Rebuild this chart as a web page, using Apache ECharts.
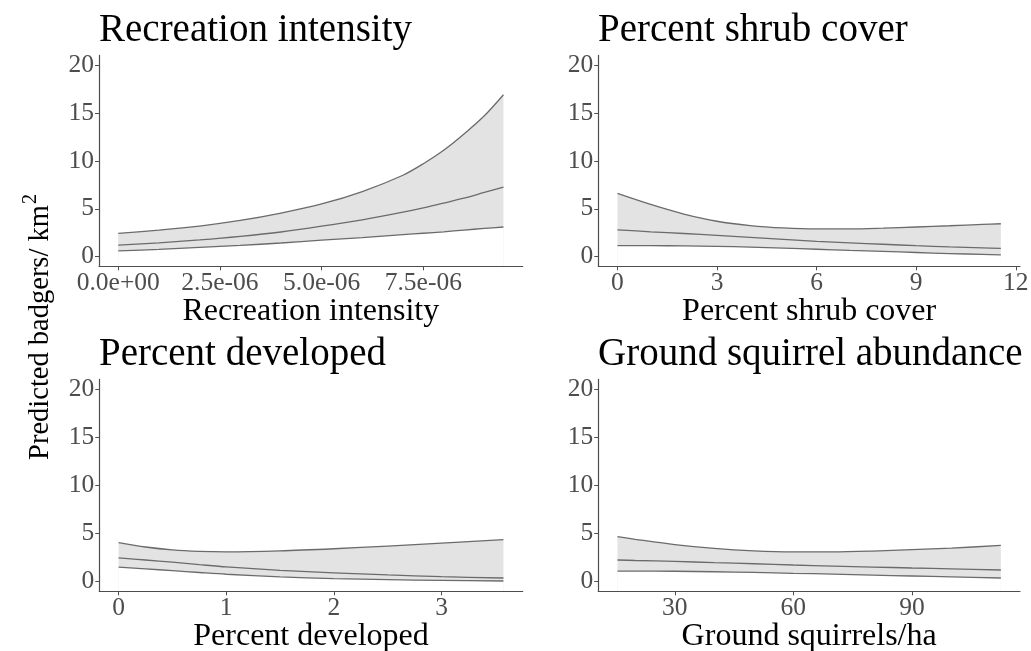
<!DOCTYPE html>
<html>
<head>
<meta charset="utf-8">
<script src="https://cdn.jsdelivr.net/npm/echarts@6/dist/echarts.min.js"></script>
<style>html,body{margin:0;padding:0;background:#fff}#c{width:1031px;height:651px}</style>
</head>
<body>
<div id="c"></div>
<script>
// ---- Data ----
const panelTitles = ['Recreation intensity', 'Percent shrub cover', 'Percent developed', 'Ground squirrel abundance'];
const xAxisNames = ['Recreation intensity', 'Percent shrub cover', 'Percent developed', 'Ground squirrels/ha'];
const yTicks = [0, 5, 10, 15, 20];

const recX = [0, 1e-6, 2e-6, 3e-6, 4e-6, 5e-6, 6e-6, 7e-6, 7.5e-6, 8e-6, 8.5e-6, 9e-6, 9.47e-6];
const recUpper = [2.44, 2.78, 3.2, 3.78, 4.55, 5.5, 6.8, 8.5, 9.7, 11.1, 12.8, 14.7, 16.9];
const recMean  = [1.2, 1.45, 1.75, 2.12, 2.58, 3.18, 3.85, 4.65, 5.1, 5.6, 6.1, 6.7, 7.25];
const recLower = [0.6, 0.77, 0.97, 1.18, 1.43, 1.72, 2.0, 2.3, 2.45, 2.6, 2.78, 2.95, 3.1];
const recTicks = [0, 2.5e-6, 5e-6, 7.5e-6];

const shrubX = [0, 1, 2, 3, 4, 5, 6, 7, 8, 9, 10, 11, 11.55];
const shrubUpper = [6.6, 5.45, 4.45, 3.7, 3.25, 3.0, 2.9, 2.9, 2.98, 3.1, 3.23, 3.37, 3.44];
const shrubMean  = [2.8, 2.6, 2.42, 2.23, 2.02, 1.8, 1.6, 1.45, 1.3, 1.15, 1.02, 0.92, 0.87];
const shrubLower = [1.15, 1.15, 1.13, 1.08, 1.0, 0.9, 0.78, 0.66, 0.55, 0.44, 0.33, 0.24, 0.2];
const shrubTicks = [0, 3, 6, 9, 12];

const devX = [0, 0.25, 0.5, 0.75, 1, 1.5, 2, 2.5, 3, 3.575];
const devUpper = [4.05, 3.6, 3.3, 3.15, 3.1, 3.2, 3.42, 3.7, 4.0, 4.36];
const devMean  = [2.46, 2.25, 2.02, 1.77, 1.53, 1.18, 0.92, 0.7, 0.52, 0.38];
const devLower = [1.52, 1.33, 1.14, 0.95, 0.77, 0.5, 0.32, 0.21, 0.13, 0.07];
const devTicks = [0, 1, 2, 3];

const sqX = [15.5, 20, 30, 40, 50, 60, 70, 80, 90, 100, 112.5];
const sqUpper = [4.67, 4.4, 3.85, 3.45, 3.2, 3.1, 3.1, 3.18, 3.32, 3.48, 3.77];
const sqMean  = [2.25, 2.2, 2.1, 1.98, 1.86, 1.73, 1.62, 1.52, 1.42, 1.33, 1.21];
const sqLower = [1.1, 1.1, 1.08, 1.03, 0.96, 0.87, 0.78, 0.68, 0.59, 0.5, 0.38];
const sqTicks = [30, 60, 90];

// ---- Layout / style ----
const FONT = 'Liberation Serif';
const LINE = '#6b6b6b';
const FILL = '#e3e3e3';
const AXIS = '#4d4d4d';

const panels = [
  {x: recX, lo: recLower, mid: recMean, hi: recUpper, ticks: recTicks, xmin: -0.4735e-6, xmax: 9.9435e-6, sci: true},
  {x: shrubX, lo: shrubLower, mid: shrubMean, hi: shrubUpper, ticks: shrubTicks, xmin: -0.5775, xmax: 12.1275},
  {x: devX, lo: devLower, mid: devMean, hi: devUpper, ticks: devTicks, xmin: -0.179, xmax: 3.754},
  {x: sqX, lo: sqLower, mid: sqMean, hi: sqUpper, ticks: sqTicks, xmin: 10.65, xmax: 117.35}
];
const grids = [
  {left: 99, top: 55.4, width: 423.7, height: 210.9},
  {left: 598.3, top: 55.4, width: 421.7, height: 210.9},
  {left: 99.3, top: 379.4, width: 423.4, height: 211.9},
  {left: 598.3, top: 379.4, width: 421.7, height: 211.9}
];
const titlePos = [{left: 99, top: 11}, {left: 598, top: 11}, {left: 99, top: 335}, {left: 598, top: 335}];

function sci(v) {
  const s = v.toExponential(1);
  const parts = s.split('e');
  const e = parts[1];
  return parts[0] + 'e' + e[0] + e.slice(1).padStart(2, '0');
}
function pairs(xs, ys) { return xs.map((x, i) => [x, ys[i]]); }

const option = {
  animation: false,
  backgroundColor: '#fff',
  title: panelTitles.map((t, i) => ({
    text: t, left: titlePos[i].left, top: titlePos[i].top, padding: 0,
    textStyle: {fontFamily: FONT, fontSize: 39, fontWeight: 'normal', color: '#000'}
  })),
  grid: grids.map(g => Object.assign({outerBoundsMode: 'none', containLabel: false}, g)),
  xAxis: panels.map((p, i) => ({
    type: 'value', gridIndex: i, min: p.xmin, max: p.xmax, z: 10,
    name: xAxisNames[i], nameLocation: 'middle', nameGap: 29, nameMoveOverlap: false,
    nameTextStyle: {fontFamily: FONT, fontSize: 32, color: '#000'},
    axisLine: {show: true, onZero: false, lineStyle: {color: AXIS, width: 1.2}},
    axisTick: {show: true, length: 4, customValues: p.ticks, lineStyle: {color: AXIS}},
    axisLabel: {customValues: p.ticks, margin: 4, fontFamily: FONT, fontSize: 25.5, color: AXIS,
      formatter: p.sci ? (v => sci(v)) : (v => String(v))},
    splitLine: {show: false}
  })),
  yAxis: panels.map((p, i) => ({
    type: 'value', gridIndex: i, min: -1, max: 21, z: 10,
    axisLine: {show: true, onZero: false, lineStyle: {color: AXIS, width: 1.2}},
    axisTick: {show: true, length: 4, customValues: yTicks, lineStyle: {color: AXIS}},
    axisLabel: {customValues: yTicks, margin: 5, fontFamily: FONT, fontSize: 25.5, color: AXIS},
    splitLine: {show: false}
  })),
  graphic: [{
    type: 'text', x: 38, y: 327, rotation: Math.PI / 2,
    style: {
      text: '{a|Predicted badgers/ km}{s|2}',
      align: 'center', verticalAlign: 'middle',
      rich: {
        a: {fontFamily: FONT, fontSize: 28.5, fill: '#000', lineHeight: 34, verticalAlign: 'bottom'},
        s: {fontFamily: FONT, fontSize: 20, fill: '#000', lineHeight: 34, verticalAlign: 'top', padding: [0, 0, 10, 1]}
      }
    }
  }],
  series: []
};

panels.forEach((p, i) => {
  const common = {type: 'line', xAxisIndex: i, yAxisIndex: i, smooth: 0.3, symbol: 'none', silent: true};
  // ribbon: grey area under the upper bound, then white area under the lower bound
  option.series.push(Object.assign({}, common, {
    data: pairs(p.x, p.hi), lineStyle: {opacity: 0},
    areaStyle: {color: FILL, opacity: 1, origin: 'start'}, z: 1
  }));
  option.series.push(Object.assign({}, common, {
    data: pairs(p.x, p.lo), lineStyle: {opacity: 0},
    areaStyle: {color: '#ffffff', opacity: 1, origin: 'start'}, z: 1
  }));
  [p.lo, p.mid, p.hi].forEach(arr => {
    option.series.push(Object.assign({}, common, {
      data: pairs(p.x, arr), lineStyle: {color: LINE, width: 1.3}, z: 3
    }));
  });
});

const chart = echarts.init(document.getElementById('c'), null, {renderer: 'canvas'});
chart.setOption(option);
</script>
</body>
</html>
